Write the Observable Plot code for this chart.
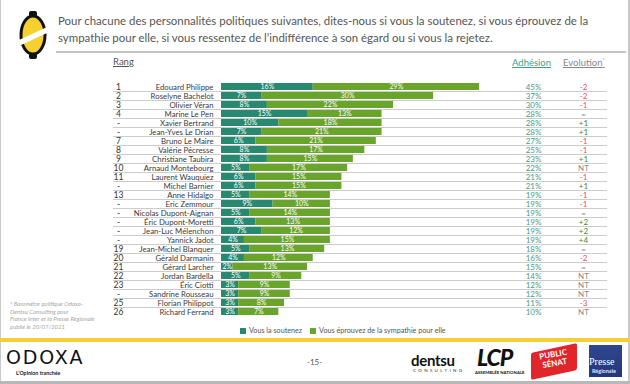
<!DOCTYPE html>
<html><head><meta charset="utf-8">
<script src="https://cdn.jsdelivr.net/npm/d3@7"></script>
<script src="https://cdn.jsdelivr.net/npm/@observablehq/plot@0.6"></script>
<style>
html,body{margin:0;padding:0;}
body{width:630px;height:384px;position:relative;overflow:hidden;background:#fff;font-family:Lato,"Open Sans",sans-serif;}
.abs{position:absolute;white-space:nowrap;}
#chart{position:absolute;left:0;top:0;}
.hdr{font-size:9.5px;text-decoration:underline;}
</style></head><body>
<div id="chart"></div>

<!-- frame -->
<div class="abs" style="left:0;top:0;width:1px;height:384px;background:#c8c8c8"></div>
<div class="abs" style="left:628px;top:0;width:2px;height:384px;background:#c8c8c8"></div>
<div class="abs" style="left:0;top:381px;width:630px;height:3px;background:#b8b8b8"></div>

<!-- logo -->
<svg class="abs" style="left:18px;top:10px" width="30" height="50" viewBox="0 0 30 50">
  <rect x="11" y="1" width="8" height="6" rx="2" fill="#111"/>
  <rect x="11" y="43" width="8" height="6" rx="2" fill="#111"/>
  <ellipse cx="15" cy="25" rx="12" ry="19" fill="#f6d02f" stroke="#111" stroke-width="3"/>
  <polygon points="1,30 29,17 29,23 1,36" fill="#fff"/>
</svg>

<div class="abs" style="left:58px;top:12px;font-size:11.45px;line-height:17px;color:#555">Pour chacune des personnalités politiques suivantes, dites-nous si vous la soutenez, si vous éprouvez de la<br>sympathie pour elle, si vous ressentez de l’indifférence à son égard ou si vous la rejetez.</div>
<div class="abs" style="left:56px;top:51px;width:570px;height:2px;background:#c4c4c4"></div>

<div class="abs hdr" style="left:113px;top:56px;color:#555">Rang</div>
<div class="abs hdr" style="left:512px;top:57px;color:#3f9d8b">Adhésion</div>
<div class="abs hdr" style="left:563px;top:57px;color:#888">Evolution<sup style="font-size:5px">*</sup></div>

<!-- legend -->
<div class="abs" id="legend" style="left:240px;top:326px;font-size:7.2px;color:#555"></div>

<!-- note -->
<div class="abs" style="left:10px;top:300px;font-size:6px;line-height:7.5px;color:#a8a8a8;font-style:italic">* Baromètre politique Odoxa-<br>Dentsu Consulting pour<br>France Inter et la Presse Régionale<br>publié le 20/07/2021</div>

<!-- footer -->
<div class="abs" style="left:0;top:338px;width:630px;height:4px;background:#f5cd34"></div>
<div class="abs" style="left:6px;top:346px;font-size:19px;letter-spacing:1.8px;color:#111;font-family:'DejaVu Sans',sans-serif">ODOXA</div>
<div class="abs" style="left:16px;top:370px;font-size:5.3px;font-weight:bold;color:#222">L’Opinion tranchée</div>
<div class="abs" style="left:307px;top:357px;font-size:8px;color:#555">-15-</div>

<div class="abs" style="left:411px;top:351px;font-size:15px;font-weight:bold;color:#111;letter-spacing:-0.3px">dentsu</div>
<div class="abs" style="left:413px;top:368px;font-size:4.5px;color:#333;letter-spacing:2.3px">CONSULTING</div>
<div class="abs" style="left:477px;top:343px;font-size:23px;font-weight:900;font-style:italic;color:#111;letter-spacing:-1px">LCP</div>
<div class="abs" style="left:475px;top:370px;font-size:4.3px;font-weight:bold;color:#111">ASSEMBLÉE NATIONALE</div>
<div class="abs" style="left:531px;top:348px;width:46px;height:27px;background:#e0262a;transform:skewY(-12deg);border-radius:2px"></div>
<div class="abs" style="left:540px;top:350px;font-size:8px;line-height:9px;font-weight:bold;color:#fff;text-align:center;transform:rotate(-10deg)">PUBLIC<br>SÉNAT</div>
<div class="abs" style="left:589px;top:345px;width:33px;height:32px;background:linear-gradient(#2f478f,#23367a)"></div>
<div class="abs" style="left:589px;top:356px;font-size:10px;color:#fff;font-family:'Liberation Serif',serif">Presse</div>
<div class="abs" style="left:592px;top:368px;font-size:5.5px;color:#dfe6ff;font-weight:bold">Régionale</div>

<script>
// ---- data ----
const ranks = ["1","2","3","4","-","-","7","8","9","10","11","-","13","-","-","-","-","-","19","20","21","22","23","-","25","26"];
const names = ["Edouard Philippe","Roselyne Bachelot","Olivier Véran","Marine Le Pen","Xavier Bertrand","Jean-Yves Le Drian","Bruno Le Maire","Valérie Pécresse","Christiane Taubira","Arnaud Montebourg","Laurent Wauquiez","Michel Barnier","Anne Hidalgo","Eric Zemmour","Nicolas Dupont-Aignan","Éric Dupont-Moretti","Jean-Luc Mélenchon","Yannick Jadot","Jean-Michel Blanquer","Gérald Darmanin","Gérard Larcher","Jordan Bardella","Éric Ciotti","Sandrine Rousseau","Florian Philippot","Richard Ferrand"];
const soutien = [16,7,8,15,10,7,6,8,8,5,6,6,5,9,5,6,7,4,5,4,2,5,3,3,3,3];
const sympathie = [29,30,22,13,18,21,21,17,15,17,15,15,14,10,14,13,12,15,13,12,13,9,9,9,8,7];
const adhesion = ["45%","37%","30%","28%","28%","28%","27%","25%","23%","22%","21%","21%","19%","19%","19%","19%","19%","19%","18%","16%","15%","14%","12%","12%","11%","10%"];
const evolution = ["-2","-2","-1","=","+1","+1","-1","-1","+1","NT","-1","+1","-1","-1","=","+2","+2","+4","=","-2","=","NT","NT","NT","-3","NT"];
const seriesLabels = ["Vous la soutenez","Vous éprouvez de la sympathie pour elle"];
const seriesColors = ["#27896f","#6aa52b"];

// ---- tables ----
const rows = names.map((n,i)=>({name:n, rank:ranks[i], adh:adhesion[i], evo:evolution[i]}));
const long = names.flatMap((n,i)=>[
  {name:n, series:seriesLabels[0], value:soutien[i]},
  {name:n, series:seriesLabels[1], value:sympathie[i]}
]);

const H = 384, mTop = 72, mBottom = 58;
const step = (H - mTop - mBottom) / names.length;

const plot = Plot.plot({
  width: 630, height: H,
  marginLeft: 221, marginRight: 151, marginTop: mTop, marginBottom: mBottom,
  x: {domain: [0, 45], axis: null},
  y: {domain: names, padding: 0.27, label: null, tickSize: 0, tickPadding: 8, fontSize: 7.8},
  color: {domain: seriesLabels, range: seriesColors},
  style: {fontFamily: "Lato, sans-serif", fontSize: "7.8px", color: "#3a3a3a", background: "transparent"},
  marks: [
    Plot.barX(long, Plot.stackX({x: "value", y: "name", fill: "series"})),
    Plot.ruleY(rows.slice(0, -1), {y: "name", stroke: "#cccccc", strokeWidth: 1, shapeRendering: "crispEdges", dy: step/2, insetLeft: -108, insetRight: -128}),
    Plot.text(long, Plot.stackX({x: "value", y: "name", z: "series", text: d => d.value + "%", fill: "white", fontSize: 7})),
    Plot.text(rows, {y: "name", text: "rank", frameAnchor: "left", dx: -103, textAnchor: "middle", fill: "#333", fontSize: 8.5}),
    Plot.text(rows, {y: "name", text: "adh", frameAnchor: "right", dx: 54, textAnchor: "middle", fill: "#3f9d8b", fontSize: 8}),
    Plot.text(rows, {filter: d => d.evo.startsWith("-"), y: "name", text: "evo", frameAnchor: "right", dx: 104, textAnchor: "middle", fill: "#ee4d5f", fontSize: 8}),
    Plot.text(rows, {filter: d => d.evo.startsWith("+"), y: "name", text: "evo", frameAnchor: "right", dx: 104, textAnchor: "middle", fill: "#3d8a3d", fontSize: 8}),
    Plot.text(rows, {filter: d => d.evo === "=" || d.evo === "NT", y: "name", text: "evo", frameAnchor: "right", dx: 104, textAnchor: "middle", fill: "#888", fontSize: 8})
  ]
});
document.getElementById("chart").appendChild(plot);

// legend built from the series arrays
const lg = document.getElementById("legend");
seriesLabels.forEach((s,i)=>{
  const sw = document.createElement("span");
  sw.style.cssText = `display:inline-block;width:6px;height:6px;background:${seriesColors[i]};margin-right:3px;vertical-align:-0.5px;${i? "margin-left:8px;" : ""}`;
  lg.appendChild(sw);
  lg.appendChild(document.createTextNode(s));
});
</script>
</body></html>
